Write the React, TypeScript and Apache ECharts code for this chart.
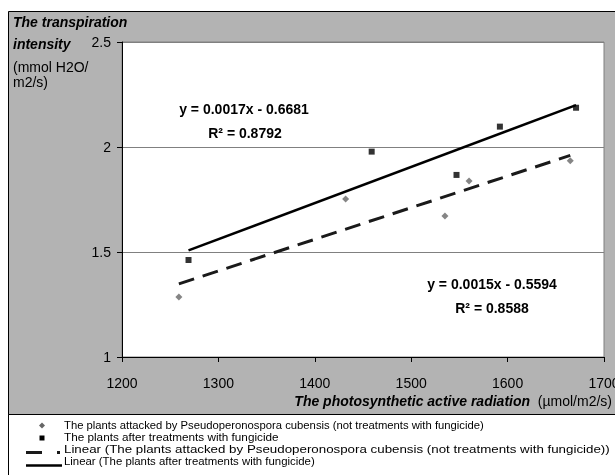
import React, { useEffect, useRef } from "react";
import * as echarts from "echarts";

// Photosynthetic active radiation (µmol/m2/s) and transpiration intensity (mmol H2O/m2/s)
const xAttacked = [1259, 1432, 1535, 1560, 1665];
const yAttacked = [1.286, 1.752, 1.671, 1.838, 1.935];
const xTreated = [1269, 1459, 1547, 1592, 1671];
const yTreated = [1.462, 1.978, 1.867, 2.097, 2.187];

const nameAttacked =
  "The plants attacked by Pseudoperonospora cubensis (not treatments with fungicide)";
const nameTreated = "The plants after treatments with fungicide";
const trendAttacked = "Linear (" + nameAttacked + ")";
const trendTreated = "Linear (" + nameTreated + ")";

const eqAttacked = ["y = 0.0015x - 0.5594", "R² = 0.8588"];
const eqTreated = ["y = 0.0017x - 0.6681", "R² = 0.8792"];

const xTicks = { min: 1200, max: 1700, interval: 100 };
const yTicks = { min: 1, max: 2.5, interval: 0.5 };

const FONT = "'Liberation Sans', Arial, Helvetica, sans-serif";

// Least-squares line spanning the series' x range
function linearFit(xs: number[], ys: number[]): number[][] {
  const n = xs.length;
  const mx = xs.reduce((a, b) => a + b, 0) / n;
  const my = ys.reduce((a, b) => a + b, 0) / n;
  let sxy = 0;
  let sxx = 0;
  for (let i = 0; i < n; i++) {
    sxy += (xs[i] - mx) * (ys[i] - my);
    sxx += (xs[i] - mx) * (xs[i] - mx);
  }
  const slope = sxy / sxx;
  const icpt = my - slope * mx;
  const lo = Math.min(...xs);
  const hi = Math.max(...xs);
  return [
    [lo, icpt + slope * lo],
    [hi, icpt + slope * hi],
  ];
}

const zip = (xs: number[], ys: number[]) => xs.map((x, i) => [x, ys[i]]);

export default function App() {
  const ref = useRef<HTMLDivElement>(null);

  useEffect(() => {
    if (!ref.current) return;
    const chart = echarts.init(ref.current, null, { renderer: "svg" });

    const boldText = (text: string, x: number, y: number) => ({
      type: "text",
      z: 10,
      style: {
        text,
        x,
        y,
        align: "center",
        verticalAlign: "middle",
        fill: "#000",
        fontFamily: FONT,
        fontSize: 14,
        fontWeight: "bold",
      },
    });

    const legendText = (text: string, y: number, stretch: number) => ({
      type: "text",
      z: 10,
      x: 64,
      y,
      scaleX: stretch,
      style: {
        text,
        x: 0,
        y: 0,
        align: "left",
        verticalAlign: "middle",
        fill: "#000",
        fontFamily: FONT,
        fontSize: 11.4,
      },
    });

    const titleLine = (text: string, y: number, bold: boolean) => ({
      type: "text",
      z: 10,
      style: {
        text,
        x: 13,
        y,
        align: "left",
        verticalAlign: "middle",
        fill: "#000",
        fontFamily: FONT,
        fontSize: 14,
        fontWeight: bold ? "bold" : "normal",
        fontStyle: bold ? "italic" : "normal",
      },
    });

    chart.setOption({
      animation: false,
      backgroundColor: "transparent",
      textStyle: { fontFamily: FONT },
      grid: {
        left: 122,
        top: 42,
        width: 482,
        height: 315,
        show: true,
        backgroundColor: "#ffffff",
        borderColor: "#808080",
        borderWidth: 1,
        containLabel: false,
        outerBoundsMode: "none",
      },
      xAxis: {
        type: "value",
        min: xTicks.min,
        max: xTicks.max,
        interval: xTicks.interval,
        axisLine: { show: true, lineStyle: { color: "#000", width: 1 } },
        axisTick: { show: true, inside: false, length: 5, lineStyle: { color: "#000" } },
        axisLabel: {
          color: "#000",
          fontSize: 14,
          fontFamily: FONT,
          margin: 19,
          formatter: (v: number) => String(v),
        },
        splitLine: { show: false },
      },
      yAxis: {
        type: "value",
        min: yTicks.min,
        max: yTicks.max,
        interval: yTicks.interval,
        axisLine: { show: true, lineStyle: { color: "#000", width: 1 } },
        axisTick: { show: true, inside: false, length: 5, lineStyle: { color: "#000" } },
        axisLabel: {
          color: "#000",
          fontSize: 14,
          fontFamily: FONT,
          margin: 11,
          formatter: (v: number) => String(v),
        },
        splitLine: { show: true, lineStyle: { color: "#808080", width: 1 } },
      },
      series: [
        {
          name: nameAttacked,
          type: "scatter",
          symbol: "diamond",
          symbolSize: 7,
          itemStyle: { color: "#666666" },
          data: zip(xAttacked, yAttacked),
          z: 3,
        },
        {
          name: nameTreated,
          type: "scatter",
          symbol: "rect",
          symbolSize: 6,
          itemStyle: { color: "#000000" },
          data: zip(xTreated, yTreated),
          z: 3,
        },
        {
          name: trendAttacked,
          type: "line",
          showSymbol: false,
          symbol: "none",
          lineStyle: { color: "#1a1a1a", width: 3, type: [16, 9] },
          data: linearFit(xAttacked, yAttacked),
          z: 4,
        },
        {
          name: trendTreated,
          type: "line",
          showSymbol: false,
          symbol: "none",
          lineStyle: { color: "#000", width: 2.5, type: "solid" },
          data: linearFit(xTreated, yTreated),
          z: 4,
        },
      ],
      graphic: [
        // chart area
        {
          type: "rect",
          z: -10,
          shape: { x: 8.5, y: 11.5, width: 700, height: 500 },
          style: { fill: "#b3b3b3", stroke: "#000", lineWidth: 1 },
        },
        // legend box
        {
          type: "rect",
          z: -9,
          shape: { x: 8.5, y: 414.5, width: 700, height: 100 },
          style: { fill: "#ffffff", stroke: "#000", lineWidth: 1 },
        },
        // y axis title
        titleLine("The transpiration", 22, true),
        titleLine("intensity", 44, true),
        titleLine("(mmol H2O/", 67, false),
        titleLine("m2/s)", 82, false),
        // x axis title
        {
          type: "text",
          z: 10,
          style: {
            text: "{b|The photosynthetic active radiation}  {n|(µmol/m2/s)}",
            x: 612,
            y: 401,
            align: "right",
            verticalAlign: "middle",
            fill: "#000",
            fontFamily: FONT,
            fontSize: 14,
            rich: {
              b: { fontFamily: FONT, fontSize: 14, fontWeight: "bold", fontStyle: "italic", fill: "#000" },
              n: { fontFamily: FONT, fontSize: 14, fill: "#000" },
            },
          },
        },
        // regression equations
        boldText(eqTreated[0], 244, 109),
        boldText(eqTreated[1], 245, 133),
        boldText(eqAttacked[0], 492, 284),
        boldText(eqAttacked[1], 492, 308),
        // legend keys
        {
          type: "polygon",
          z: 10,
          shape: { points: [[42, 422.5], [45, 425.5], [42, 428.5], [39, 425.5]] },
          style: { fill: "#666666" },
        },
        {
          type: "rect",
          z: 10,
          shape: { x: 39.5, y: 435.5, width: 5, height: 5 },
          style: { fill: "#000" },
        },
        {
          type: "line",
          z: 10,
          shape: { x1: 26, y1: 452.5, x2: 42, y2: 452.5 },
          style: { stroke: "#1a1a1a", lineWidth: 3 },
        },
        {
          type: "line",
          z: 10,
          shape: { x1: 57, y1: 452.5, x2: 60, y2: 452.5 },
          style: { stroke: "#1a1a1a", lineWidth: 3 },
        },
        {
          type: "line",
          z: 10,
          shape: { x1: 26, y1: 465.5, x2: 62, y2: 465.5 },
          style: { stroke: "#000", lineWidth: 2.3 },
        },
        legendText(nameAttacked, 425, 0.99),
        legendText(nameTreated, 437, 1.03),
        legendText(trendAttacked, 449, 1.17),
        legendText(trendTreated, 461, 1.0),
      ],
    });

    return () => chart.dispose();
  }, []);

  return (
    <div
      ref={ref}
      style={{ position: "fixed", left: 0, top: 0, width: 615, height: 475 }}
    />
  );
}
